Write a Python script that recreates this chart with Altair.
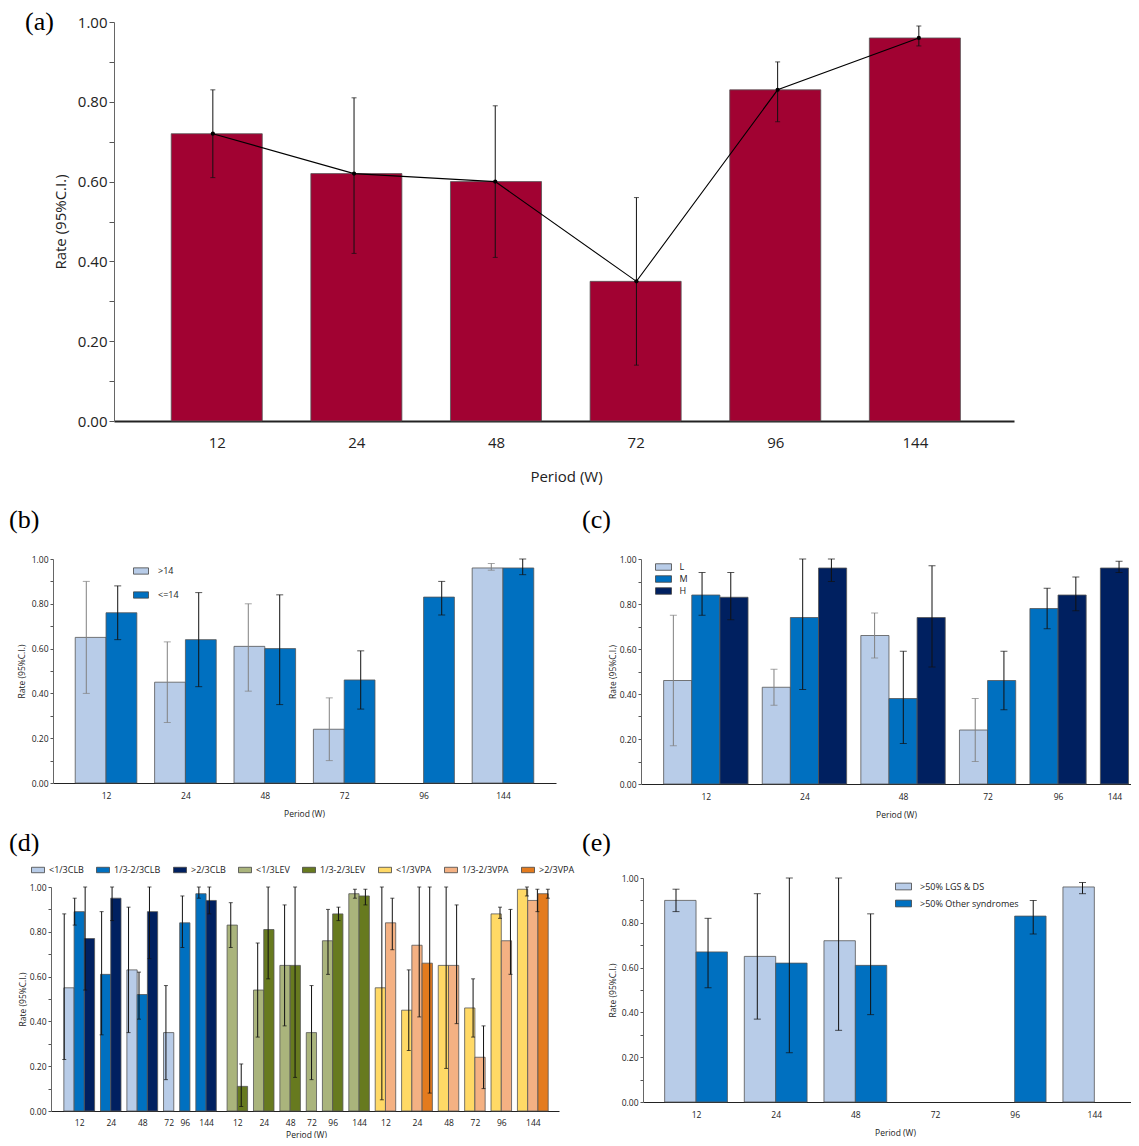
import altair as alt
import pandas as pd

W, H = 1123, 1130
FONT = "Open Sans"
periods = ["12", "24", "48", "72", "96", "144"]

# ---------------- (a) overall
a_rate = [0.72, 0.62, 0.60, 0.35, 0.83, 0.96]
a_lo = [0.61, 0.42, 0.41, 0.14, 0.75, 0.94]
a_hi = [0.83, 0.81, 0.79, 0.56, 0.90, 0.99]

# ---------------- (b) age
b_names = [">14", "<=14"]
b_gt_rate = [0.65, 0.45, 0.61, 0.24, None, 0.96]
b_gt_lo = [0.40, 0.27, 0.41, 0.10, None, 0.95]
b_gt_hi = [0.90, 0.63, 0.80, 0.38, None, 0.98]
b_le_rate = [0.76, 0.64, 0.60, 0.46, 0.83, 0.96]
b_le_lo = [0.64, 0.43, 0.35, 0.33, 0.75, 0.93]
b_le_hi = [0.88, 0.85, 0.84, 0.59, 0.90, 1.00]

# ---------------- (c) dose level
c_names = ["L", "M", "H"]
c_l_rate = [0.46, 0.43, 0.66, 0.24, None, None]
c_l_lo = [0.17, 0.35, 0.56, 0.10, None, None]
c_l_hi = [0.75, 0.51, 0.76, 0.38, None, None]
c_m_rate = [0.84, 0.74, 0.38, 0.46, 0.78, None]
c_m_lo = [0.75, 0.42, 0.18, 0.33, 0.69, None]
c_m_hi = [0.94, 1.00, 0.59, 0.59, 0.87, None]
c_h_rate = [0.83, 0.96, 0.74, None, 0.84, 0.96]
c_h_lo = [0.73, 0.90, 0.52, None, 0.77, 0.94]
c_h_hi = [0.94, 1.00, 0.97, None, 0.92, 0.99]

# ---------------- (d) concomitant drugs
d_clb_names = ["<1/3CLB", "1/3-2/3CLB", ">2/3CLB"]
d_lev_names = ["<1/3LEV", "1/3-2/3LEV"]
d_vpa_names = ["<1/3VPA", "1/3-2/3VPA", ">2/3VPA"]
d_clb_low_rate = [0.55, None, 0.63, 0.35, None, None]
d_clb_low_lo = [0.23, None, 0.35, 0.14, None, None]
d_clb_low_hi = [0.88, None, 0.91, 0.56, None, None]
d_clb_mid_rate = [0.89, 0.61, 0.52, None, 0.84, 0.97]
d_clb_mid_lo = [0.83, 0.34, 0.41, None, 0.73, 0.95]
d_clb_mid_hi = [0.95, 0.89, 0.62, None, 0.96, 1.00]
d_clb_high_rate = [0.77, 0.95, 0.89, None, None, 0.94]
d_clb_high_lo = [0.54, 0.85, 0.68, None, None, 0.88]
d_clb_high_hi = [1.00, 1.00, 1.00, None, None, 1.00]
d_lev_low_rate = [0.83, 0.54, 0.65, 0.35, 0.76, 0.97]
d_lev_low_lo = [0.73, 0.33, 0.38, 0.14, 0.61, 0.95]
d_lev_low_hi = [0.93, 0.75, 0.92, 0.56, 0.90, 0.99]
d_lev_mid_rate = [0.11, 0.81, 0.65, None, 0.88, 0.96]
d_lev_mid_lo = [0.02, 0.59, 0.15, None, 0.85, 0.92]
d_lev_mid_hi = [0.21, 1.00, 1.00, None, 0.91, 0.99]
d_vpa_low_rate = [0.55, 0.45, 0.65, 0.46, 0.88, 0.99]
d_vpa_low_lo = [0.05, 0.27, 0.19, 0.33, 0.86, 0.96]
d_vpa_low_hi = [1.00, 0.63, 1.00, 0.59, 0.91, 1.00]
d_vpa_mid_rate = [0.84, 0.74, 0.65, 0.24, 0.76, 0.94]
d_vpa_mid_lo = [0.72, 0.42, 0.39, 0.10, 0.61, 0.89]
d_vpa_mid_hi = [0.95, 1.00, 0.92, 0.38, 0.90, 0.99]
d_vpa_high_rate = [None, 0.66, None, None, None, 0.97]
d_vpa_high_lo = [None, 0.08, None, None, None, 0.95]
d_vpa_high_hi = [None, 1.00, None, None, None, 0.99]

# ---------------- (e) syndromes
e_names = [">50% LGS & DS", ">50% Other syndromes"]
e_lgs_rate = [0.90, 0.65, 0.72, None, None, 0.96]
e_lgs_lo = [0.85, 0.37, 0.32, None, None, 0.93]
e_lgs_hi = [0.95, 0.93, 1.00, None, None, 0.98]
e_oth_rate = [0.67, 0.62, 0.61, None, 0.83, None]
e_oth_lo = [0.51, 0.22, 0.39, None, 0.75, None]
e_oth_hi = [0.82, 1.00, 0.84, None, 0.90, None]

# colours
LIGHT_BLUE, MID_BLUE, NAVY = "#B8CCE8", "#0070C0", "#002060"
OLIVE_L, OLIVE_D = "#AAB47C", "#677A1F"
YEL, PEACH, ORANGE = "#FFD966", "#F4B183", "#E47B1E"
CRIMSON = "#A10232"

y_ticks = [round(i * 0.1, 1) for i in range(11)]
y_label_expr = "round(datum.value * 10) % 2 == 0 ? format(datum.value, '.2f') : ''"


def build_fixed(names, rates, los, his, bw):
    n = len(names)
    rows = []
    for pi, p in enumerate(periods):
        for k, (s, r, l, h) in enumerate(zip(names, rates, los, his)):
            if r[pi] is None:
                continue
            x0 = pi - n * bw / 2 + k * bw
            rows.append(dict(series=s, period=p, rate=r[pi], lo=l[pi], hi=h[pi],
                             x0=x0, x1=x0 + bw, xc=x0 + bw / 2))
    ticks = [(float(i), p) for i, p in enumerate(periods)]
    return pd.DataFrame(rows), ticks


def build_compressed(blocks, gap, block_gaps):
    rows, ticks = [], []
    cur = 0.0
    for bi, (names, rates, los, his) in enumerate(blocks):
        for pi, p in enumerate(periods):
            present = [(s, r[pi], l[pi], h[pi]) for s, r, l, h in zip(names, rates, los, his)
                       if r[pi] is not None]
            if not present:
                continue
            start = cur
            for s, r, l, h in present:
                rows.append(dict(series=s, period=p, rate=r, lo=l, hi=h,
                                 x0=cur, x1=cur + 1, xc=cur + 0.5))
                cur += 1
            ticks.append(((start + cur) / 2, p))
            cur += gap
        if bi < len(blocks) - 1:
            cur += block_gaps[bi] - gap
    return pd.DataFrame(rows), ticks


def make_panel(df, ticks, lay, color, light=None, extra=None):
    xs = alt.Scale(domain=lay["xdom"], range=lay["xr"], zero=False, nice=False)
    ys = alt.Scale(domain=[0, 1], range=lay["yr"], zero=False, nice=False)
    centers = [round(c, 4) for c, _ in ticks]
    expr = " : ".join(f"abs(datum.value - {c}) < 0.001 ? '{lab}'"
                      for c, (_, lab) in zip(centers, ticks)) + " : ''"
    xaxis = alt.Axis(orient="bottom", offset=lay["yr"][0] - H, values=centers, labelExpr=expr,
                     ticks=False, tickSize=0, grid=False, labelAngle=0, labelFlush=False,
                     labelOverlap=False, labelFont=FONT, labelFontSize=lay["fs"], labelColor="#222",
                     labelPadding=lay["xlp"], domainColor="#222", domainWidth=lay["xdw"],
                     title="Period (W)", titleFont=FONT, titleFontSize=lay["tfs"],
                     titleFontWeight="normal", titleColor="#222", titleX=lay["xtx"],
                     titleY=lay["xty"], titleBaseline="middle", titleAlign="center")
    yaxis = alt.Axis(orient="left", offset=-lay["xr"][0], values=y_ticks, labelExpr=y_label_expr,
                     tickSize=lay["yts"], tickColor="#555", grid=False, labelFlush=False,
                     labelOverlap=False, labelFont=FONT, labelFontSize=lay["fs"], labelColor="#222",
                     labelPadding=lay["ylp"], domainColor="#666", domainWidth=1,
                     title="Rate (95%C.I.)", titleFont=FONT, titleFontSize=lay["tfs"],
                     titleFontWeight=lay["tfw"], titleColor="#222", titleX=lay["ytx"],
                     titleY=(lay["yr"][0] + lay["yr"][1]) / 2, titleBaseline="middle",
                     titleAlign="center")
    base = alt.Chart(df)
    bars = base.mark_bar(stroke="#555555", strokeWidth=0.8, orient="vertical").encode(
        x=alt.X("x0:Q", scale=xs, axis=xaxis), x2="x1:Q",
        y=alt.Y("rate:Q", scale=ys, axis=yaxis), y2=alt.datum(0), color=color)
    if light:
        ecolor = alt.condition(alt.FieldOneOfPredicate(field="series", oneOf=light),
                               alt.value("#808080"), alt.value("#111111"))
    else:
        ecolor = alt.value("#111111")
    rules = base.mark_rule(strokeWidth=1).encode(
        x=alt.X("xc:Q", scale=xs, axis=None), y=alt.Y("lo:Q", scale=ys, axis=None),
        y2="hi:Q", color=ecolor)
    cap_lo = base.mark_tick(orient="horizontal", size=lay["cap"], thickness=1).encode(
        x=alt.X("xc:Q", scale=xs, axis=None), y=alt.Y("lo:Q", scale=ys, axis=None), color=ecolor)
    cap_hi = base.mark_tick(orient="horizontal", size=lay["cap"], thickness=1).encode(
        x=alt.X("xc:Q", scale=xs, axis=None), y=alt.Y("hi:Q", scale=ys, axis=None), color=ecolor)
    layers = [bars, rules, cap_lo, cap_hi]
    if extra:
        layers += extra(base, xs, ys)
    return layers


RECT = "M-1,-0.42H1V0.42H-1Z"
RECT_WIDE = "M-1.23,-0.5H1.23V0.5H-1.23Z"


def legend(x, y, size, lab_off, row_pad=2, horizontal=False, col_pad=10, cols=1, shape=RECT):
    kw = dict(orient="none", legendX=x, legendY=y, title=None, symbolType=shape, symbolSize=size,
              symbolStrokeColor="#444444", symbolStrokeWidth=0.8, symbolOpacity=1,
              labelFont=FONT, labelFontSize=9, labelColor="#222", labelOffset=lab_off,
              rowPadding=row_pad)
    if horizontal:
        kw.update(direction="horizontal", columns=cols, columnPadding=col_pad)
    else:
        kw.update(direction="vertical")
    return alt.Legend(**kw)


# ---- (a)
df_a, ticks_a = build_fixed(["all"], [a_rate], [a_lo], [a_hi], 0.652)
lay_a = dict(xdom=[-0.70, 5.674], xr=[106, 1006], yr=[413, 14], fs=15, tfs=15, tfw="normal",
             xlp=14, xdw=2, xtx=558, xty=55, yts=5, ylp=2, ytx=-54, cap=5)


def a_extra(base, xs, ys):
    line = base.mark_line(color="black", strokeWidth=1.1).encode(
        x=alt.X("xc:Q", scale=xs, axis=None), y=alt.Y("rate:Q", scale=ys, axis=None))
    pts = base.mark_point(filled=True, color="black", size=18, opacity=1).encode(
        x=alt.X("xc:Q", scale=xs, axis=None), y=alt.Y("rate:Q", scale=ys, axis=None))
    return [line, pts]


panel_a = make_panel(df_a, ticks_a, lay_a, alt.value(CRIMSON), None, a_extra)

# ---- (b)
df_b, ticks_b = build_fixed(b_names, [b_gt_rate, b_le_rate], [b_gt_lo, b_le_lo],
                            [b_gt_hi, b_le_hi], 0.388)
lay_b = dict(xdom=[-0.605, 5.605], xr=[45, 548], yr=[775, 551], fs=8.5, tfs=8.5, tfw="normal",
             xlp=8, xdw=1.2, xtx=296, xty=30, yts=3, ylp=2, ytx=-32, cap=7)
col_b = alt.Color("series:N", scale=alt.Scale(domain=b_names, range=[LIGHT_BLUE, MID_BLUE]),
                  legend=legend(125, 555, 225, 9, row_pad=11))
panel_b = make_panel(df_b, ticks_b, lay_b, col_b, [">14"])

# ---- (c)
df_c, ticks_c = build_compressed([(c_names, [c_l_rate, c_m_rate, c_h_rate],
                                   [c_l_lo, c_m_lo, c_h_lo], [c_l_hi, c_m_hi, c_h_hi])],
                                 0.505, [])
lay_c = dict(xdom=[-0.627, 16.72], xr=[633, 1131], yr=[776, 551], fs=8.5, tfs=8.5, tfw="normal",
             xlp=8, xdw=1.2, xtx=888, xty=30, yts=3, ylp=2, ytx=-29, cap=7)
col_c = alt.Color("series:N", scale=alt.Scale(domain=c_names, range=[LIGHT_BLUE, MID_BLUE, NAVY]),
                  legend=legend(648.5, 552, 169, 9, row_pad=0, shape=RECT_WIDE))
panel_c = make_panel(df_c, ticks_c, lay_c, col_c, ["L"])

# ---- (d)
blocks_d = [
    (d_clb_names, [d_clb_low_rate, d_clb_mid_rate, d_clb_high_rate],
     [d_clb_low_lo, d_clb_mid_lo, d_clb_high_lo], [d_clb_low_hi, d_clb_mid_hi, d_clb_high_hi]),
    (d_lev_names, [d_lev_low_rate, d_lev_mid_rate],
     [d_lev_low_lo, d_lev_mid_lo], [d_lev_low_hi, d_lev_mid_hi]),
    (d_vpa_names, [d_vpa_low_rate, d_vpa_mid_rate, d_vpa_high_rate],
     [d_vpa_low_lo, d_vpa_mid_lo, d_vpa_high_lo], [d_vpa_low_hi, d_vpa_mid_hi, d_vpa_high_hi]),
]
df_d, ticks_d = build_compressed(blocks_d, 0.574, [1.05, 0.574])
d_names = d_clb_names + d_lev_names + d_vpa_names
lay_d = dict(xdom=[-0.765, 47.8], xr=[43, 551], yr=[1103, 879], fs=8.5, tfs=8.5, tfw="normal",
             xlp=7, xdw=1.2, xtx=298, xty=23, yts=3, ylp=2, ytx=-29, cap=4)
col_d = alt.Color("series:N",
                  scale=alt.Scale(domain=d_names,
                                  range=[LIGHT_BLUE, MID_BLUE, NAVY, OLIVE_L, OLIVE_D, YEL, PEACH, ORANGE]),
                  legend=legend(23, 855, 169, 4, horizontal=True, col_pad=10, cols=8))
panel_d = make_panel(df_d, ticks_d, lay_d, col_d, None)

# ---- (e)
df_e, ticks_e = build_fixed(e_names, [e_lgs_rate, e_oth_rate], [e_lgs_lo, e_oth_lo],
                            [e_lgs_hi, e_oth_hi], 0.394)
lay_e = dict(xdom=[-0.603, 5.498], xr=[635, 1131], yr=[1094, 870], fs=8.5, tfs=8.5, tfw="normal",
             xlp=8, xdw=1.2, xtx=887, xty=30, yts=3, ylp=2, ytx=-31, cap=7)
col_e = alt.Color("series:N", scale=alt.Scale(domain=e_names, range=[LIGHT_BLUE, MID_BLUE]),
                  legend=legend(887, 870, 256, 8, row_pad=3))
panel_e = make_panel(df_e, ticks_e, lay_e, col_e, None)


def tag(text, x, y):
    return alt.Chart(pd.DataFrame({"t": [text]})).mark_text(
        align="left", baseline="middle", font="Liberation Serif", fontSize=26, color="black"
    ).encode(text="t:N", x=alt.value(x), y=alt.value(y))


tags = [tag("(a)", 17, 14), tag("(b)", 1, 512), tag("(c)", 574, 512),
        tag("(d)", 1, 835), tag("(e)", 574, 835)]

all_layers = panel_a + panel_b + panel_c + panel_d + panel_e + tags
chart = alt.layer(*all_layers).resolve_scale(
    x="independent", y="independent", color="independent"
).properties(
    width=W, height=H, autosize=alt.AutoSizeParams(type="none"), padding=0
).configure_view(stroke=None)

chart.save("out.html", embed_options={"renderer": "svg", "actions": False})
